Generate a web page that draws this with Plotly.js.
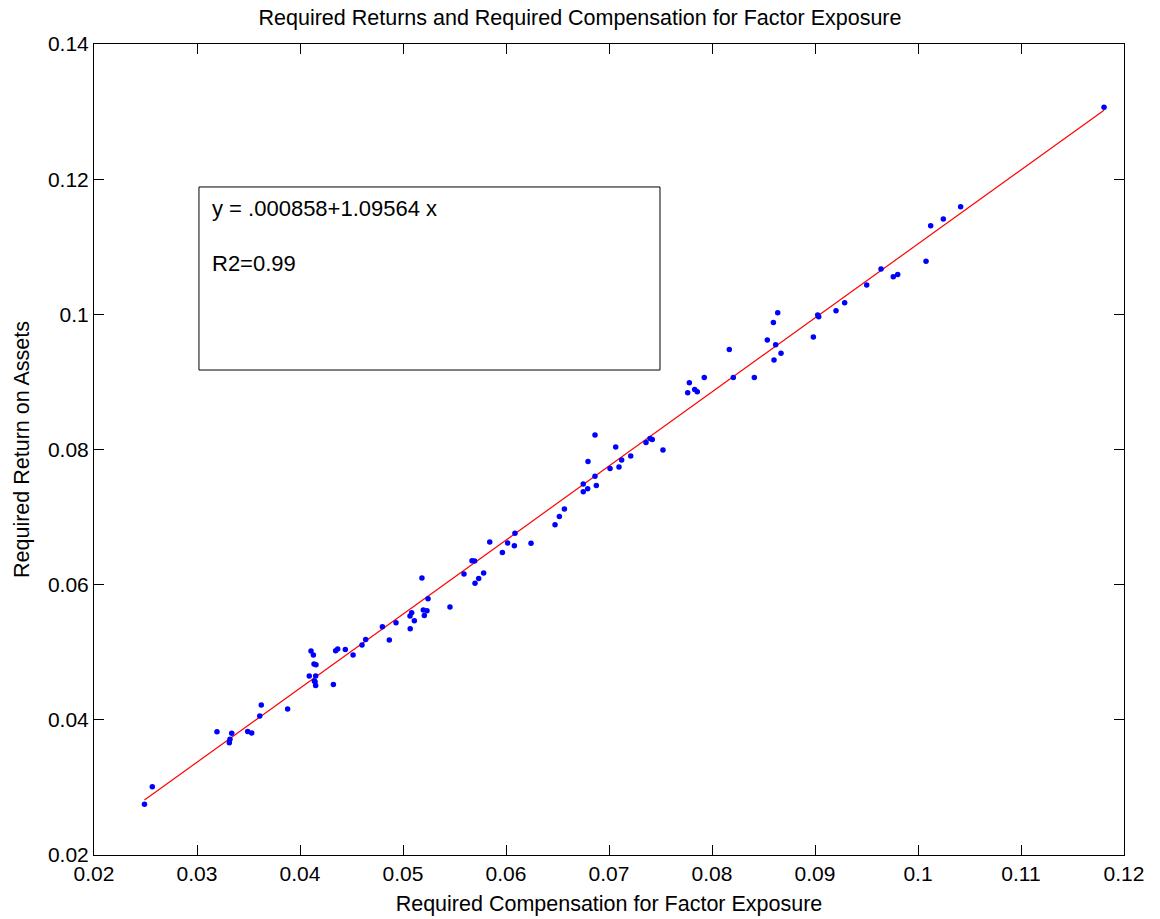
<!DOCTYPE html>
<html>
<head>
<meta charset="utf-8">
<script src="https://cdn.plot.ly/plotly-3.0.1.min.js"></script>
<style>html,body{margin:0;padding:0;background:#fff;}#chart{width:1160px;height:919px;}</style>
</head>
<body>
<div id="chart"></div>
<script>
// Required compensation for factor exposure (x) and required return on assets (y)
var compX = [
0.0249,0.02566,0.03194,0.03337,0.0332,0.03314,0.03492,0.03531,0.03624,0.03609,0.0388,
0.04146,0.04107,0.0413,0.04136,0.04155,0.0409,0.04152,0.04139,0.04152,0.04324,0.04346,0.04366,
0.0444,0.04515,0.04602,0.04638,0.048,0.04867,0.04932,0.05068,0.05084,0.0511,0.0507,0.05184,
0.05197,0.05233,0.05207,0.05243,0.05456,0.05592,0.0567,0.05695,0.05699,0.05735,
0.05783,0.05842,0.05965,0.06016,0.06081,0.06087,0.06243,0.06476,0.06518,0.06567,
0.0675,0.06793,0.0675,0.06877,0.06796,0.06864,0.06864,0.0701,0.07065,0.07097,0.07123,0.07211,
0.07359,0.07398,0.0742,0.07524,
0.07764,0.0778,0.07832,0.07857,0.07925,0.08168,0.08207,0.08411,0.08537,0.08596,0.08638,0.08618,
0.08602,0.0867,0.08984,0.09026,0.09036,0.09204,0.09288,
0.09502,0.09641,0.0976,0.09803,0.10078,0.10123,0.10246,0.10414,0.11806
];
var retY = [
0.0275,0.0301,0.03824,0.0380,0.03711,0.03662,0.03828,0.03805,0.0422,0.04057,0.0416,
0.04564,0.05019,0.0496,0.04826,0.04815,0.04649,0.04649,0.04575,0.04508,0.04523,0.05022,0.05047,
0.05042,0.0496,0.05107,0.0519,0.05378,0.0518,0.05437,0.05535,0.05584,0.05465,0.05347,0.06099,
0.05625,0.05613,0.05545,0.0579,0.05671,0.06158,0.06354,0.06352,0.0602,0.06093,
0.06172,0.06632,0.06475,0.06617,0.06577,0.06761,0.06611,0.06886,0.0701,0.07119,
0.0749,0.0742,0.07375,0.07468,0.07823,0.08215,0.07604,0.0772,0.08037,0.07741,0.07845,0.07904,
0.08104,0.08163,0.08149,0.07993,
0.0884,0.08988,0.08889,0.08855,0.09066,0.0948,0.09067,0.09067,0.0962,0.09881,0.10024,0.09551,
0.09325,0.09423,0.09665,0.0999,0.09964,0.10053,0.10172,
0.10434,0.10671,0.10557,0.10591,0.10785,0.11312,0.11411,0.11593,0.13064
];
// Fitted line: y = a + b x
var fitA = 0.000858;
var fitB = 1.09564;
var fitLabel = "y = .000858+1.09564 x";
var r2Label = "R2=0.99";
var chartTitle = "Required Returns and Required Compensation for Factor Exposure";
var xTitle = "Required Compensation for Factor Exposure";
var yTitle = "Required Return on Assets";

var xMin = Math.min.apply(null, compX), xMax = Math.max.apply(null, compX);
var lineX = [xMin, xMax];
var lineY = lineX.map(function(v){ return fitA + fitB * v; });

var font = "Liberation Sans, Arial, sans-serif";

var traces = [
  {x: lineX, y: lineY, mode: "lines", type: "scatter",
   line: {color: "#ff0000", width: 1.2}, hoverinfo: "skip"},
  {x: compX, y: retY, mode: "markers", type: "scatter",
   marker: {color: "#0000ff", size: 5.5}}
];

var axisCommon = {
  showgrid: false, zeroline: false, showline: true, linecolor: "#000", linewidth: 1,
  mirror: "allticks", ticks: "inside", ticklen: 10, tickcolor: "#000", tickwidth: 1,
  tickfont: {family: font, size: 21, color: "#000"}
};

var layout = {
  width: 1160, height: 919,
  margin: {l: 94, r: 36, t: 44, b: 64},
  paper_bgcolor: "#fff", plot_bgcolor: "#fff",
  showlegend: false,
  title: {text: chartTitle, font: {family: font, size: 21.5, color: "#000"},
          x: 0.5, xanchor: "center", y: 0.981, yanchor: "middle"},
  xaxis: Object.assign({}, axisCommon, {range: [0.02, 0.12], dtick: 0.01, tick0: 0.02,
          title: {text: xTitle, font: {family: font, size: 21.5, color: "#000"}, standoff: 11}}),
  yaxis: Object.assign({}, axisCommon, {range: [0.02, 0.14], dtick: 0.02, tick0: 0.02,
          title: {text: yTitle, font: {family: font, size: 21.5, color: "#000"}, standoff: 12}}),
  shapes: [{type: "rect", xref: "paper", yref: "paper", x0: 0.1019, x1: 0.5495, y0: 0.598, y1: 0.8237,
            line: {color: "#000", width: 1}, fillcolor: "rgba(0,0,0,0)"}],
  annotations: [
    {xref: "paper", yref: "paper", x: 0.113, y: 0.7973, xanchor: "left", yanchor: "middle",
     text: fitLabel, showarrow: false, font: {family: font, size: 22, color: "#000"}},
    {xref: "paper", yref: "paper", x: 0.113, y: 0.7295, xanchor: "left", yanchor: "middle",
     text: r2Label, showarrow: false, font: {family: font, size: 22, color: "#000"}}
  ]
};

Plotly.newPlot("chart", traces, layout, {displayModeBar: false, staticPlot: true});
</script>
</body>
</html>
